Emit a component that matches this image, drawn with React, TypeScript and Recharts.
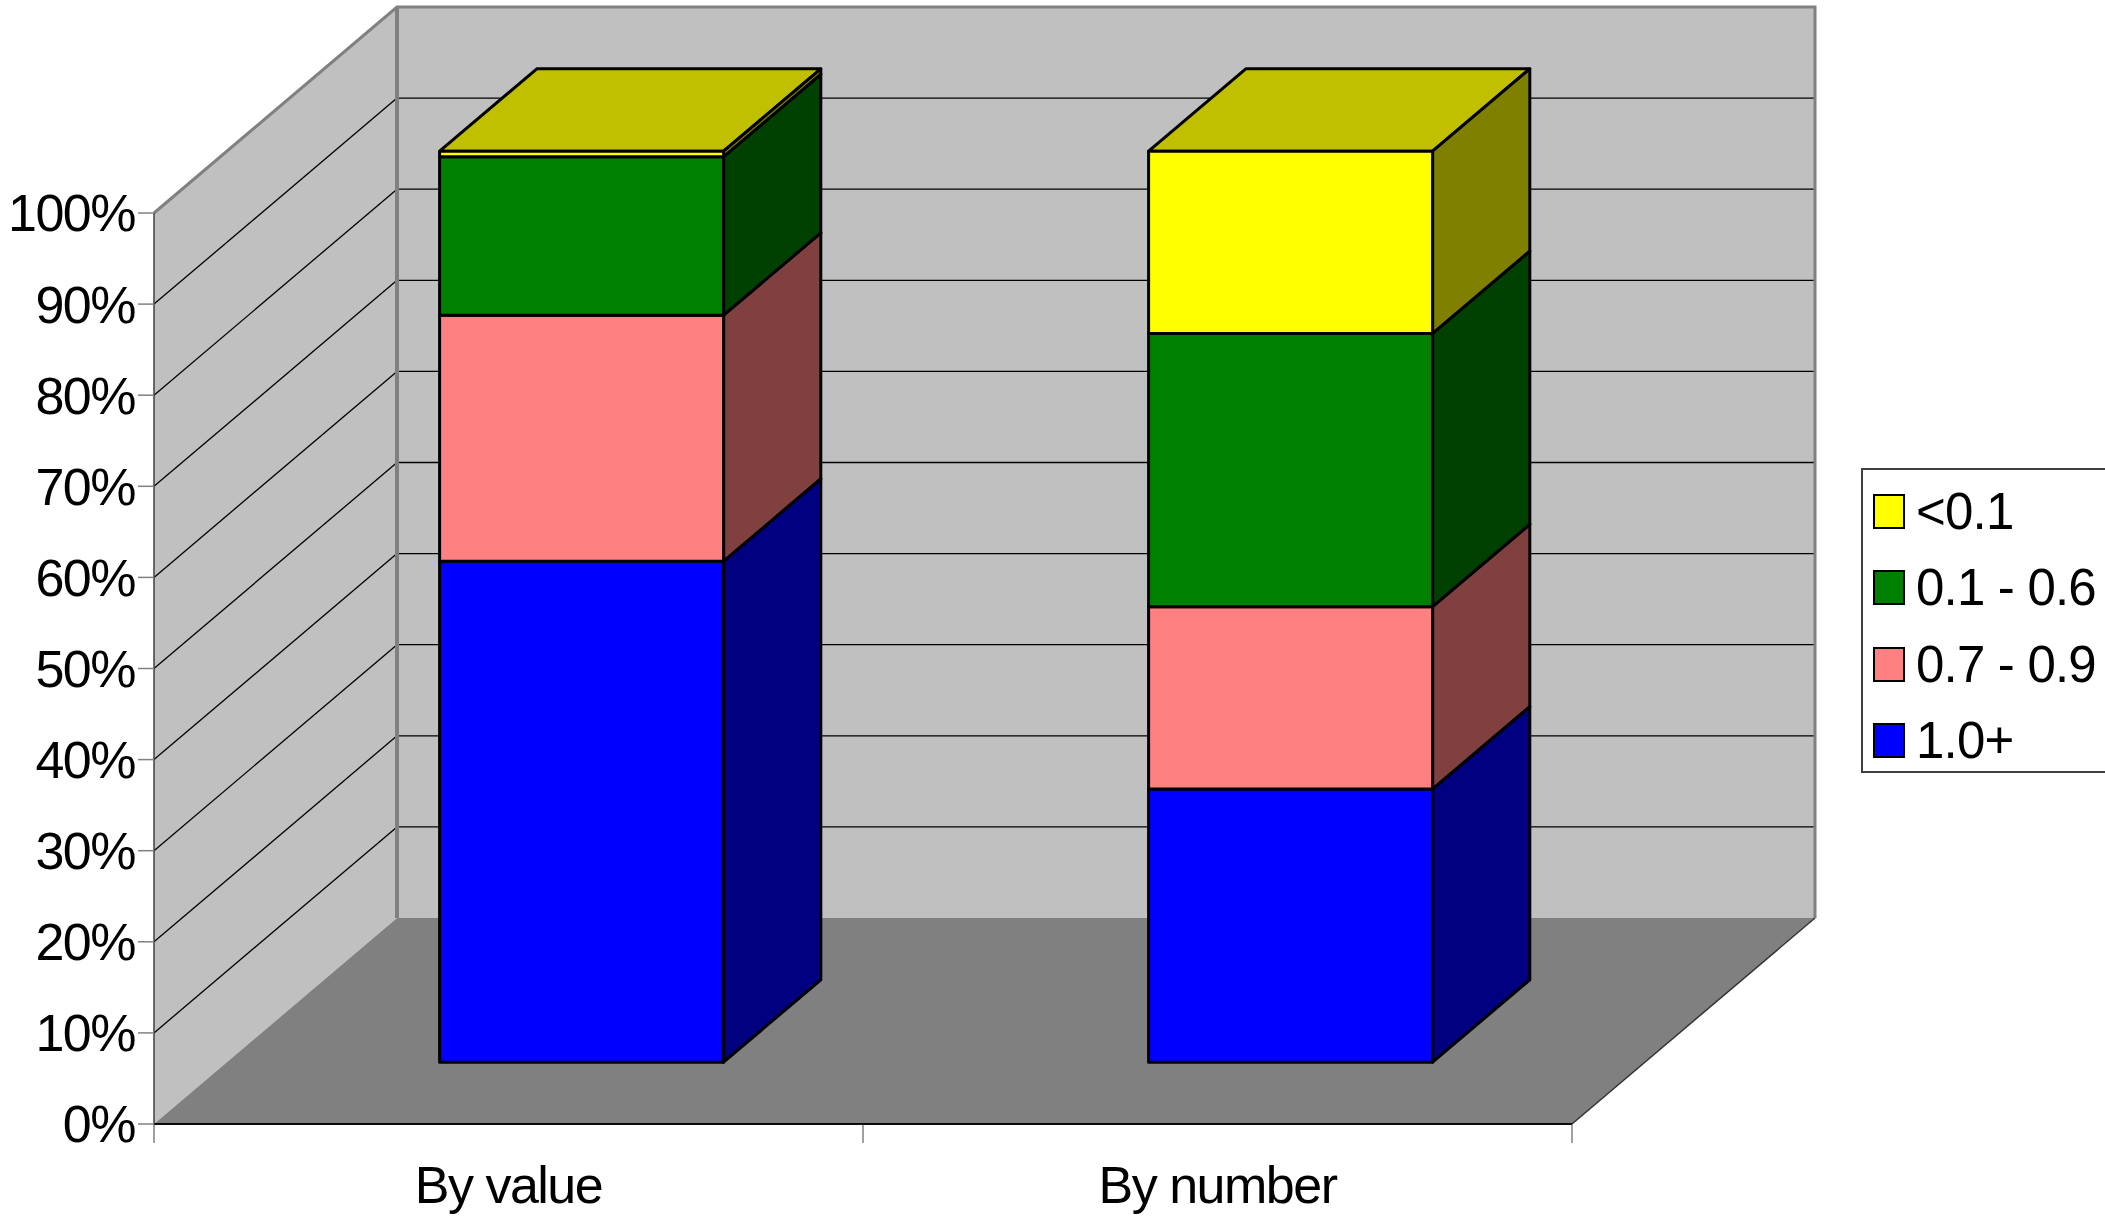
import { BarChart, Bar, XAxis, YAxis, ReferenceArea, Legend } from "recharts";

// shares per size class, in percent of the total
const categories = ["By value", "By number"];
const share10Plus = [55, 30]; // 1.0+
const share0709 = [27, 20]; // 0.7 - 0.9
const share0106 = [17.4, 30]; // 0.1 - 0.6
const shareBelow01 = [0.6, 20]; // <0.1
const seriesNames = ["1.0+", "0.7 - 0.9", "0.1 - 0.6", "<0.1"];
const yTicks = [0, 10, 20, 30, 40, 50, 60, 70, 80, 90, 100];

const data = categories.map((name, i) => ({
  name,
  s0: share10Plus[i],
  s1: share0709[i],
  s2: share0106[i],
  s3: shareBelow01[i],
}));

// front / side / top shade of each series box
const faces = [
  { front: "#0000FF", side: "#000080", top: "#0000C0" },
  { front: "#FF8080", side: "#804040", top: "#C06060" },
  { front: "#008000", side: "#004000", top: "#006000" },
  { front: "#FFFF00", side: "#808000", top: "#C0C000" },
];

const W = 2105;
const H = 1218;
const FONT = "'Liberation Sans', Arial, Helvetica, sans-serif";
const FONT_SIZE = 52;
// projection of the full floor depth
const DEPTH_X = 243;
const DEPTH_Y = 206;
// bars sit between these depth fractions
const BAR_NEAR = 0.3;
const BAR_FAR = 0.7;

const tickStyle = { fill: "#000", fontSize: FONT_SIZE, fontFamily: FONT, letterSpacing: -1.5 };

function boxShape(idx: number) {
  const c = faces[idx];
  return (p: any) => {
    const { x, y, width: w, height: h } = p;
    if (w == null || h == null || !isFinite(x) || !isFinite(y)) return <g />;
    const fx = x + DEPTH_X * BAR_NEAR;
    const fy = y - DEPTH_Y * BAR_NEAR;
    const bx = DEPTH_X * (BAR_FAR - BAR_NEAR);
    const by = DEPTH_Y * (BAR_FAR - BAR_NEAR);
    return (
      <g stroke="#000" strokeWidth={3} strokeLinejoin="round">
        <polygon
          points={`${fx},${fy} ${fx + bx},${fy - by} ${fx + w + bx},${fy - by} ${fx + w},${fy}`}
          fill={c.top}
        />
        <polygon
          points={`${fx + w},${fy} ${fx + w + bx},${fy - by} ${fx + w + bx},${fy + h - by} ${fx + w},${fy + h}`}
          fill={c.side}
        />
        <rect x={fx} y={fy} width={w} height={h} fill={c.front} />
      </g>
    );
  };
}

// back wall, side wall, floor and their grid, from the plot rectangle
function Walls(p: any) {
  const { x, y, width: w, height: h } = p;
  const b = y + h;
  const r = x + w;
  const dx = DEPTH_X;
  const dy = DEPTH_Y;
  const inner = yTicks.filter((v) => v > 0 && v < 100);
  const catEdges = [0, 1, 2].map((i) => x + (w * i) / categories.length);
  return (
    <g>
      <rect x={x + dx} y={y - dy} width={w} height={h} fill="#C0C0C0" />
      <polygon points={`${x},${y} ${x + dx},${y - dy} ${x + dx},${b - dy} ${x},${b}`} fill="#C0C0C0" />
      <polygon points={`${x},${b} ${r},${b} ${r + dx},${b - dy} ${x + dx},${b - dy}`} fill="#808080" />
      {inner.map((v) => {
        const yy = y + h * (1 - v / 100);
        return (
          <g key={v} stroke="#000" strokeWidth={1.3}>
            <line x1={x} y1={yy} x2={x + dx} y2={yy - dy} />
            <line x1={x + dx} y1={yy - dy} x2={r + dx} y2={yy - dy} />
          </g>
        );
      })}
      <polyline
        points={`${x},${y} ${x + dx},${y - dy} ${r + dx},${y - dy} ${r + dx},${b - dy}`}
        fill="none"
        stroke="#808080"
        strokeWidth={3}
      />
      <line x1={x + dx} y1={y - dy} x2={x + dx} y2={b - dy} stroke="#808080" strokeWidth={4} />
      <line x1={r} y1={b} x2={r + dx} y2={b - dy} stroke="#333" strokeWidth={1.5} />
      <line x1={x} y1={b} x2={r} y2={b} stroke="#000" strokeWidth={1.5} />
      {catEdges.map((cx, i) => (
        <line key={i} x1={cx} y1={b} x2={cx} y2={b + 19} stroke="#808080" strokeWidth={1.5} />
      ))}
    </g>
  );
}

const renderLegend = (props: any) => {
  const items = [...(props.payload || [])].sort(
    (a: any, b: any) => seriesNames.indexOf(b.value) - seriesNames.indexOf(a.value)
  );
  return (
    <div
      style={{
        boxSizing: "border-box",
        width: 260,
        height: 305,
        border: "2px solid #404040",
        background: "#fff",
        paddingTop: 3,
        fontFamily: FONT,
        fontSize: 51,
        letterSpacing: -0.8,
        color: "#000",
      }}
    >
      {items.map((it: any) => (
        <div key={it.value} style={{ display: "flex", alignItems: "center", height: 76.5 }}>
          <span
            style={{
              display: "inline-block",
              boxSizing: "border-box",
              width: 32,
              height: 35,
              border: "2px solid #000",
              background: it.color,
              marginLeft: 10,
              marginRight: 11,
            }}
          />
          <span style={{ lineHeight: 1 }}>{it.value}</span>
        </div>
      ))}
    </div>
  );
};

export default function App() {
  return (
    <div
      style={{
        position: "absolute",
        left: 0,
        top: 0,
        width: W,
        height: H,
        overflow: "hidden",
        background: "#fff",
      }}
    >
      <BarChart
        width={W}
        height={H}
        data={data}
        margin={{ top: 213, right: 533, left: 0, bottom: 0 }}
        barCategoryGap="30%"
        barGap={0}
        style={{ fontFamily: FONT }}
      >
        <ReferenceArea y1={0} y2={100} shape={Walls} ifOverflow="visible" />
        <XAxis
          dataKey="name"
          height={94}
          interval={0}
          tickLine={false}
          tickSize={6}
          tickMargin={36}
          axisLine={{ stroke: "#000", strokeWidth: 1.5 }}
          tick={tickStyle}
        />
        <YAxis
          width={154}
          domain={[0, 100]}
          ticks={yTicks}
          interval={0}
          tickFormatter={(v) => `${v}%`}
          tickSize={16}
          tickMargin={3}
          axisLine={{ stroke: "#404040", strokeWidth: 1.5 }}
          tickLine={{ stroke: "#808080", strokeWidth: 1.5 }}
          tick={tickStyle}
        />
        {seriesNames.map((n, i) => (
          <Bar
            key={n}
            dataKey={`s${i}`}
            name={n}
            stackId="a"
            fill={faces[i].front}
            shape={boxShape(i)}
            isAnimationActive={false}
          />
        ))}
        <Legend
          layout="vertical"
          align="center"
          verticalAlign="middle"
          wrapperStyle={{ left: 1861, top: 468, width: 260, height: 305 }}
          content={renderLegend}
        />
      </BarChart>
    </div>
  );
}
